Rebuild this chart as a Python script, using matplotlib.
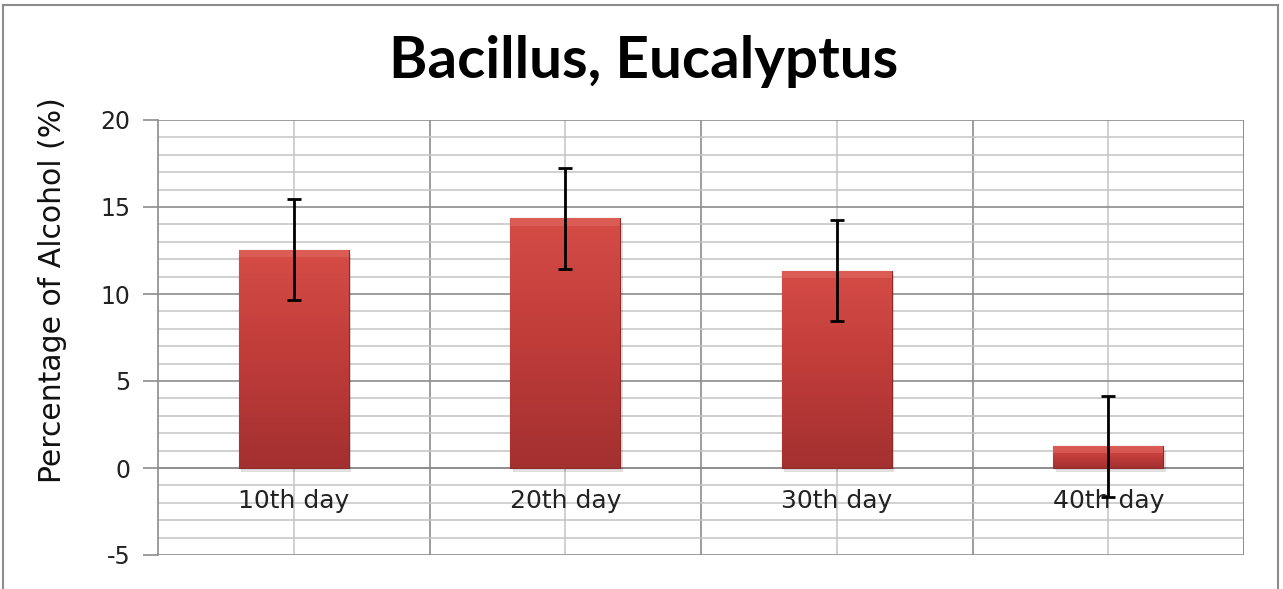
import numpy as np
import matplotlib.pyplot as plt
from matplotlib.patches import Rectangle
from matplotlib.lines import Line2D
from matplotlib.colors import LinearSegmentedColormap

plt.rcParams["axes.unicode_minus"] = False

# donnees
jours = ["10th day", "20th day", "30th day", "40th day"]
alcool = [12.55, 14.35, 11.35, 1.25]
erreur = [2.9, 2.9, 2.9, 2.9]

fig = plt.figure(figsize=(12.83, 5.89), dpi=100)
ax = fig.add_axes([158/1283, 1-555/589, (1244-158)/1283, (555-120)/589])

x = np.arange(len(jours))
largeur = 0.405

# grille : majeure tous les 5, mineure tous les 1
ax.set_ylim(-5, 20)
ax.set_xlim(-0.5, 3.5)
ax.set_yticks(np.arange(-5, 21, 5))
ax.set_yticks(np.arange(-5, 21, 1), minor=True)
ax.set_xticks(x + 0.5)
ax.set_xticks(x, minor=True)
ax.grid(which="major", color="#8c8c8c", linewidth=1.2)
ax.grid(which="minor", color="#c4c4c4", linewidth=1.1)
ax.set_axisbelow(True)
ax.set_xticklabels([])
ax.tick_params(axis="x", which="both", length=0)
ax.tick_params(axis="y", which="major", length=11, color="#8c8c8c", width=1.2,
               labelsize=17, labelcolor="#222222", pad=9)
ax.tick_params(axis="y", which="minor", length=0)
for s in ["top", "right", "bottom"]:
    ax.spines[s].set_visible(False)
ax.spines["left"].set_color("#8c8c8c")
ax.spines["left"].set_linewidth(1.2)
ax.axhline(0, color="#8c8c8c", linewidth=1.2, zorder=1)
ax.axvline(3.5, color="#8c8c8c", linewidth=1.2, zorder=1)

# barres avec degrade
degrade = np.linspace(0, 1, 256).reshape(-1, 1)
cmap = LinearSegmentedColormap.from_list("rouge", ["#a33030", "#bf3c39", "#d64c47"])
for xi, h in zip(x, alcool):
    # ombre
    ax.add_patch(Rectangle((xi - largeur/2 + 0.01, -0.25), largeur, h, facecolor="#000000",
                           alpha=0.12, edgecolor="none", zorder=2))
    r = Rectangle((xi - largeur/2, 0), largeur, h, facecolor="#c0403b",
                  edgecolor="#8a2a28", linewidth=0.8, zorder=3)
    ax.add_patch(r)
    im = ax.imshow(degrade, cmap=cmap, aspect="auto", origin="lower",
                   extent=(xi - largeur/2, xi + largeur/2, 0, h), zorder=3)
    im.set_clip_path(r)
    # biseau du haut
    ax.add_patch(Rectangle((xi - largeur/2, h - min(0.45, h*0.3)), largeur, min(0.45, h*0.3),
                           facecolor="#e06660", alpha=0.6, edgecolor="none", zorder=4))

ax.errorbar(x, alcool, yerr=erreur, fmt="none", ecolor="black", elinewidth=2,
            capsize=5, capthick=2, zorder=5)

for xi, j in zip(x, jours):
    ax.annotate(j, (xi, 0), xytext=(0, -15), textcoords="offset points",
                ha="center", va="top", fontsize=18, color="#222222", zorder=4)

ax.set_ylabel("Percentage of Alcohol (%)", fontsize=21.5, color="#111111")
ax.yaxis.set_label_coords(-0.084, 0.61)
fig.text(644/1283, 1-61/589, "Bacillus, Eucalyptus", ha="center", va="center",
         fontsize=42, fontweight="bold", family="Lato")

# cadre exterieur
fig.add_artist(Line2D([3/1283, 1278/1283], [1-5/589, 1-5/589], color="#8c8c8c", lw=1.5))
fig.add_artist(Line2D([3/1283, 3/1283], [0, 1-5/589], color="#8c8c8c", lw=1.5))
fig.add_artist(Line2D([1278/1283, 1278/1283], [0, 1-5/589], color="#8c8c8c", lw=1.5))

fig.savefig("out.png", dpi=100)
